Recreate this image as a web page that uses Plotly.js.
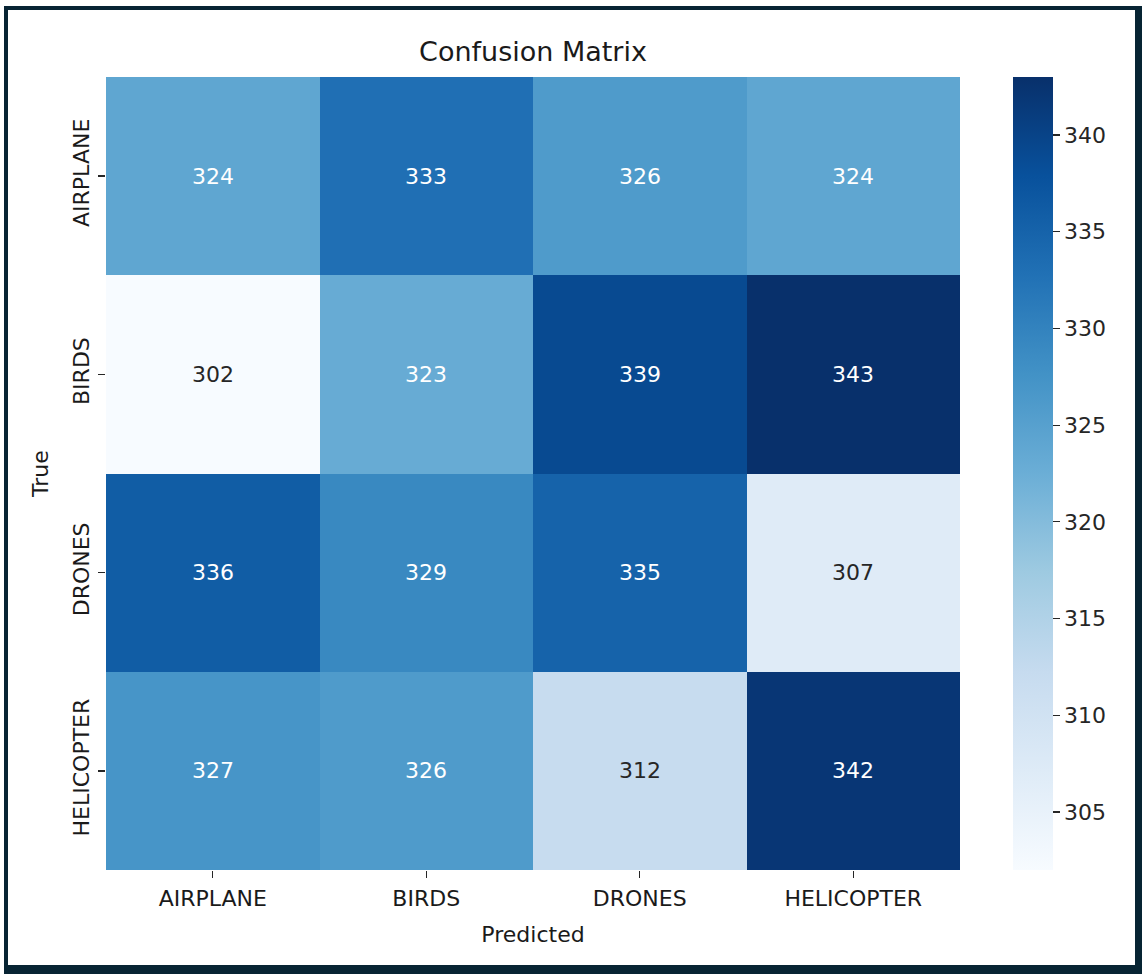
<!DOCTYPE html>
<html>
<head>
<meta charset="utf-8">
<script src="https://cdn.plot.ly/plotly-3.0.1.min.js"></script>
<style>
  html, body { margin: 0; padding: 0; background: #ffffff; }
  #wrap { position: relative; width: 1142px; height: 974px; overflow: hidden; }
  #chart { position: absolute; left: 0; top: 0; width: 1142px; height: 974px; }
  #frame {
    position: absolute; left: 4px; top: 6px; width: 1138px; height: 968px;
    box-sizing: border-box; pointer-events: none;
    border-left: 4px solid #072433; border-top: 4px solid #072433;
    border-right: 7px solid #072433; border-bottom: 9px solid #072433;
  }
</style>
</head>
<body>
<div id="wrap">
  <div id="chart"></div>
  <div id="frame"></div>
</div>
<script>
const predictedLabels = ["AIRPLANE", "BIRDS", "DRONES", "HELICOPTER"];
const trueLabels = ["AIRPLANE", "BIRDS", "DRONES", "HELICOPTER"];
const rowAirplane = [324, 333, 326, 324];
const rowBirds = [302, 323, 339, 343];
const rowDrones = [336, 329, 335, 307];
const rowHelicopter = [327, 326, 312, 342];
const colorbarTicks = [305, 310, 315, 320, 325, 330, 335, 340];

const z = [rowAirplane, rowBirds, rowDrones, rowHelicopter];

const blues = ["#f7fbff", "#deebf7", "#c6dbef", "#9ecae1", "#6baed6",
               "#4292c6", "#2171b5", "#08519c", "#08306b"];
const colorscale = blues.map((c, i) => [i / (blues.length - 1), c]);

const allVals = z.flat();
const zmin = Math.min(...allVals);
const zmax = Math.max(...allVals);

function hexToRgb(h) {
  return [parseInt(h.slice(1, 3), 16), parseInt(h.slice(3, 5), 16), parseInt(h.slice(5, 7), 16)];
}
function colorAt(v) {
  const t = (v - zmin) / (zmax - zmin) * (blues.length - 1);
  const i = Math.min(Math.floor(t), blues.length - 2);
  const f = t - i;
  const a = hexToRgb(blues[i]), b = hexToRgb(blues[i + 1]);
  return a.map((x, k) => (x + (b[k] - x) * f) / 255);
}
function lum(rgb) {
  const lin = rgb.map(c => c <= 0.03928 ? c / 12.92 : Math.pow((c + 0.055) / 1.055, 2.4));
  return 0.2126 * lin[0] + 0.7152 * lin[1] + 0.0722 * lin[2];
}

const annotations = [];
trueLabels.forEach((tl, r) => {
  predictedLabels.forEach((pl, c) => {
    const v = z[r][c];
    annotations.push({
      x: pl, y: tl, xref: "x", yref: "y", text: String(v), showarrow: false,
      font: { family: "DejaVu Sans", size: 22, color: lum(colorAt(v)) > 0.408 ? "#262626" : "#ffffff" }
    });
  });
});

const trace = {
  type: "heatmap",
  x: predictedLabels,
  y: trueLabels,
  z: z,
  zmin: zmin,
  zmax: zmax,
  colorscale: colorscale,
  showscale: true,
  hoverinfo: "skip",
  colorbar: {
    x: 1.062, xanchor: "left", xref: "paper",
    y: 0.5, yanchor: "middle",
    len: 1, lenmode: "fraction",
    thickness: 40, thicknessmode: "pixels",
    xpad: 0, ypad: 0,
    outlinewidth: 0,
    tickmode: "array", tickvals: colorbarTicks, ticktext: colorbarTicks.map(String),
    ticks: "outside", ticklen: 7, tickwidth: 1.3, tickcolor: "#262626",
    tickfont: { family: "DejaVu Sans", size: 22, color: "#262626" }
  }
};

const layout = {
  width: 1142, height: 974,
  margin: { l: 106, r: 182, t: 77, b: 104 },
  paper_bgcolor: "#ffffff", plot_bgcolor: "#ffffff",
  font: { family: "DejaVu Sans", color: "#262626" },
  title: {
    text: "Confusion Matrix",
    font: { family: "DejaVu Sans", size: 27, color: "#1a1a1a" },
    x: (106 + 427) / 1142, xanchor: "center", xref: "container",
    y: 1 - 52 / 974, yanchor: "middle", yref: "container"
  },
  xaxis: {
    type: "category",
    title: { text: "Predicted", font: { family: "DejaVu Sans", size: 22, color: "#1a1a1a" }, standoff: 16 },
    showgrid: false, zeroline: false, showline: false,
    ticks: "outside", ticklen: 7, tickwidth: 1.3, tickcolor: "#262626",
    ticklabelstandoff: 2,
    tickfont: { family: "DejaVu Sans", size: 22, color: "#1a1a1a" }
  },
  yaxis: {
    type: "category",
    autorange: "reversed",
    title: { text: "True", font: { family: "DejaVu Sans", size: 22, color: "#1a1a1a" }, standoff: 14 },
    showgrid: false, zeroline: false, showline: false,
    ticks: "outside", ticklen: 7, tickwidth: 1.3, tickcolor: "#262626",
    tickangle: -90,
    tickfont: { family: "DejaVu Sans", size: 22, color: "#1a1a1a" }
  },
  annotations: annotations
};

Plotly.newPlot("chart", [trace], layout, { displayModeBar: false, staticPlot: true });
</script>
</body>
</html>
